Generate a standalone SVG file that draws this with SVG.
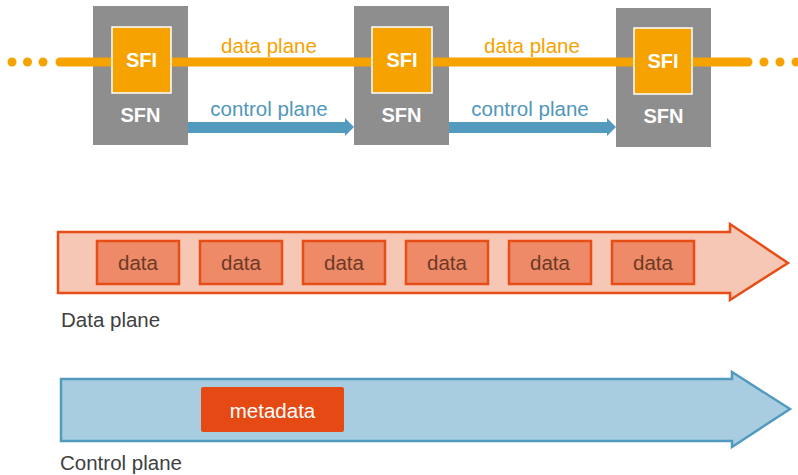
<svg xmlns="http://www.w3.org/2000/svg" width="798" height="475" viewBox="0 0 798 475">
<style>
.sfn{fill:#8e8e8e}
.sfi{fill:#f6a200;stroke:#fff;stroke-width:1.5}
.wb{font-family:"Liberation Sans",Arial,sans-serif;font-weight:bold;font-size:20px;fill:#fff;text-anchor:middle}
.lbl{font-family:"Liberation Sans",Arial,sans-serif;font-size:20.5px;text-anchor:middle}
.or{fill:#f6a200}
.bl{fill:#529bbf}
.dbox{fill:#ee8a67;stroke:#e64d17;stroke-width:2.5}
.dtxt{font-family:"Liberation Sans",Arial,sans-serif;font-size:20.5px;fill:#6b3a26;text-anchor:middle}
.cap{font-family:"Liberation Sans",Arial,sans-serif;font-size:20.5px;fill:#404040}
</style>
<g id="sfn1"><rect class="sfn" x="93" y="6" width="95" height="139"/><text class="wb" x="140.5" y="122">SFN</text></g>
<g id="sfn2"><rect class="sfn" x="354" y="6" width="95" height="139"/><text class="wb" x="401.5" y="122">SFN</text></g>
<g id="sfn3"><rect class="sfn" x="616" y="8" width="95" height="139"/><text class="wb" x="663.5" y="123">SFN</text></g>
<g id="connectors">
<g class="or"><circle cx="12" cy="62" r="4.5"/><circle cx="27.5" cy="62" r="4.5"/><circle cx="43" cy="62" r="4.5"/><circle cx="764" cy="62" r="4.5"/><circle cx="780" cy="62" r="4.5"/><circle cx="796" cy="62" r="4.5"/></g>
<line x1="60" y1="62" x2="748" y2="62" stroke="#f6a200" stroke-width="9" stroke-linecap="round"/>
<polygon class="bl" points="188,122 345,122 345,118 354,127 345,136 345,133 188,133"/>
<polygon class="bl" points="449,122 607,122 607,118 616,127 607,136 607,133 449,133"/>
<text class="lbl" x="269" y="53" fill="#f6a200">data plane</text>
<text class="lbl" x="532" y="53" fill="#f6a200">data plane</text>
<text class="lbl" x="269" y="116" fill="#4f97bb">control plane</text>
<text class="lbl" x="530" y="116" fill="#4f97bb">control plane</text>
</g>
<g id="sfi1"><rect class="sfi" x="112" y="27" width="59" height="66"/><text class="wb" x="141.5" y="67">SFI</text></g>
<g id="sfi2"><rect class="sfi" x="372" y="27" width="60" height="66"/><text class="wb" x="402" y="67">SFI</text></g>
<g id="sfi3"><rect class="sfi" x="634" y="28" width="58" height="66"/><text class="wb" x="663" y="68">SFI</text></g>
<g id="data-plane">
<polygon points="58,232 730,232 730,224 788,263 730,300 730,293 58,293" fill="#f7c7b6" stroke="#e64d17" stroke-width="2.5" stroke-linejoin="miter"/>
<rect class="dbox" x="97" y="241" width="82" height="43"/><text class="dtxt" x="138" y="270">data</text>
<rect class="dbox" x="200" y="241" width="82" height="43"/><text class="dtxt" x="241" y="270">data</text>
<rect class="dbox" x="303" y="241" width="82" height="43"/><text class="dtxt" x="344" y="270">data</text>
<rect class="dbox" x="406" y="241" width="82" height="43"/><text class="dtxt" x="447" y="270">data</text>
<rect class="dbox" x="509" y="241" width="82" height="43"/><text class="dtxt" x="550" y="270">data</text>
<rect class="dbox" x="612" y="241" width="82" height="43"/><text class="dtxt" x="653" y="270">data</text>
<text class="cap" x="61" y="327">Data plane</text>
</g>
<g id="control-plane">
<polygon points="61,379 732,379 732,372 790,409 732,447 732,441 61,441" fill="#a9cde0" stroke="#529bbf" stroke-width="2.5"/>
<rect x="201" y="387" width="143" height="45" rx="2" fill="#e64a14"/>
<text class="lbl" x="272.5" y="418" fill="#fff">metadata</text>
<text class="cap" x="60" y="470">Control plane</text>
</g>
</svg>
